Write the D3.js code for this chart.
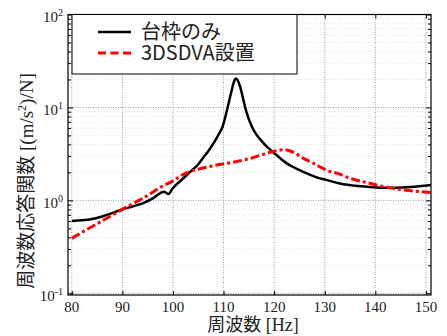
<!DOCTYPE html>
<html lang="ja">
<head>
  <meta charset="UTF-8">
  <title>周波数応答関数</title>
  <script src="https://d3js.org/d3.v7.min.js"></script>
  <style>
    * { margin: 0; padding: 0; }
    body { background: #fff; width: 447px; height: 336px; overflow: hidden; }
    svg { display: block; }
  </style>
</head>
<body>
  <svg id="chart" width="447" height="336"></svg>
  <script>
  // 台枠のみ
  var freqBase = [80, 82, 84, 86, 88, 90, 92, 94, 96, 97.5, 98.2, 98.8, 99.2, 99.8, 100.5, 102, 103.5, 105, 106, 107, 108, 109, 109.8, 110.7, 111.5, 112, 112.4, 112.8, 113.3, 114, 114.4, 115.6, 116.5, 117.3, 118.5, 119.8, 121, 122.5, 124, 126, 128, 130.5, 133, 137, 141, 144, 147, 151];
  var ampBase = [0.60, 0.61, 0.63, 0.67, 0.73, 0.80, 0.86, 0.93, 1.05, 1.20, 1.24, 1.19, 1.17, 1.32, 1.45, 1.72, 2.05, 2.45, 2.9, 3.4, 4.1, 5.1, 6.2, 9.5, 14.5, 18.5, 20.5, 19.5, 16.5, 11.5, 9.4, 6.2, 5.1, 4.5, 3.8, 3.3, 2.9, 2.5, 2.25, 2.0, 1.8, 1.65, 1.52, 1.42, 1.37, 1.37, 1.39, 1.46];

  // 3DSDVA設置
  var freqDva = [80, 82.5, 85, 87.5, 90, 92.5, 95, 97.5, 100, 102, 104, 106, 108, 110, 112, 114, 116, 118, 120, 121, 122, 123, 124, 125, 126, 127.2, 129, 130.5, 132.5, 135, 138.4, 141, 143.7, 147, 151];
  var ampDva = [0.39, 0.47, 0.56, 0.67, 0.80, 0.95, 1.13, 1.38, 1.62, 1.9, 2.1, 2.23, 2.36, 2.47, 2.58, 2.72, 2.9, 3.15, 3.38, 3.48, 3.5, 3.42, 3.25, 3.02, 2.8, 2.6, 2.3, 2.1, 1.95, 1.73, 1.55, 1.43, 1.34, 1.27, 1.21];

  var xTicks = [80, 90, 100, 110, 120, 130, 140, 150];
  var yExp = [-1, 0, 1, 2];
  var legendLabels = ['台枠のみ', '3DSDVA設置'];

  var SERIF = "'Liberation Serif', 'Times New Roman', serif";
  var CJK = "'Noto Sans CJK JP', 'Noto Sans', sans-serif";

  var plotL = 68, plotR = 431, plotT = 14.5, plotB = 295;

  var svg = d3.select('#chart');

  var x = d3.scaleLinear().domain([79.25, 151]).range([plotL, plotR]);
  var y = d3.scaleLog().domain([0.0959, 100]).range([plotB, plotT]);

  // minor values for the log axis
  var minorVals = [];
  yExp.forEach(function(e) {
    for (var k = 2; k <= 9; k++) {
      var v = k * Math.pow(10, e);
      if (v < 100) minorVals.push(v);
    }
  });
  var majorVals = yExp.map(function(e) { return Math.pow(10, e); });

  var grid = svg.append('g');
  grid.selectAll('line.minor')
    .data(minorVals)
    .join('line')
    .attr('class', 'minor')
    .attr('x1', plotL).attr('x2', plotR)
    .attr('y1', function(d) { return y(d); })
    .attr('y2', function(d) { return y(d); })
    .attr('stroke', '#e2e2e2')
    .attr('stroke-dasharray', '1,2');

  grid.selectAll('line.hmaj')
    .data(majorVals)
    .join('line')
    .attr('class', 'hmaj')
    .attr('x1', plotL).attr('x2', plotR)
    .attr('y1', function(d) { return y(d); })
    .attr('y2', function(d) { return y(d); })
    .attr('stroke', '#9a9a9a')
    .attr('stroke-dasharray', '1,1.5');

  grid.selectAll('line.vmaj')
    .data(xTicks)
    .join('line')
    .attr('class', 'vmaj')
    .attr('x1', function(d) { return x(d); })
    .attr('x2', function(d) { return x(d); })
    .attr('y1', plotT).attr('y2', plotB)
    .attr('stroke', '#9a9a9a')
    .attr('stroke-dasharray', '1,1.5');

  // Curves
  svg.append('clipPath').attr('id', 'clip')
    .append('rect').attr('x', plotL).attr('y', plotT).attr('width', plotR - plotL).attr('height', plotB - plotT);

  var line = d3.line()
    .x(function(d) { return x(d[0]); })
    .y(function(d) { return y(d[1]); })
    .curve(d3.curveMonotoneX);

  var curves = svg.append('g').attr('clip-path', 'url(#clip)');

  curves.append('path')
    .datum(d3.zip(freqBase, ampBase))
    .attr('d', line)
    .attr('fill', 'none')
    .attr('stroke', '#000')
    .attr('stroke-width', 2.5)
    .attr('stroke-linejoin', 'round');

  curves.append('path')
    .datum(d3.zip(freqDva, ampDva))
    .attr('d', line)
    .attr('fill', 'none')
    .attr('stroke', '#ff0000')
    .attr('stroke-width', 3)
    .attr('stroke-dasharray', '9,3,3,3');

  // Axes (inward ticks, box)
  function noDomain(g) { g.select('.domain').remove(); }

  svg.append('g')
    .attr('transform', 'translate(0,' + plotB + ')')
    .call(d3.axisBottom(x).tickValues(xTicks).tickSize(-4).tickFormat(''))
    .call(noDomain);
  svg.append('g')
    .attr('transform', 'translate(0,' + plotT + ')')
    .call(d3.axisTop(x).tickValues(xTicks).tickSize(-4).tickFormat(''))
    .call(noDomain);
  svg.append('g')
    .attr('transform', 'translate(' + plotL + ',0)')
    .call(d3.axisLeft(y).tickValues(majorVals).tickSize(-5).tickFormat(''))
    .call(noDomain);
  svg.append('g')
    .attr('transform', 'translate(' + plotL + ',0)')
    .call(d3.axisLeft(y).tickValues(minorVals).tickSize(-3).tickFormat(''))
    .call(noDomain);
  svg.append('g')
    .attr('transform', 'translate(' + plotR + ',0)')
    .call(d3.axisRight(y).tickValues(majorVals).tickSize(-5).tickFormat(''))
    .call(noDomain);
  svg.append('g')
    .attr('transform', 'translate(' + plotR + ',0)')
    .call(d3.axisRight(y).tickValues(minorVals).tickSize(-3).tickFormat(''))
    .call(noDomain);

  svg.append('rect')
    .attr('x', plotL).attr('y', plotT)
    .attr('width', plotR - plotL).attr('height', plotB - plotT)
    .attr('fill', 'none')
    .attr('stroke', '#000')
    .attr('stroke-width', 1.2);

  // Tick labels
  svg.append('g')
    .selectAll('text')
    .data(xTicks)
    .join('text')
    .attr('x', function(d) { return x(d); })
    .attr('y', 311.5)
    .attr('text-anchor', 'middle')
    .attr('font-family', SERIF)
    .attr('font-size', 15)
    .attr('fill', '#222')
    .text(function(d) { return d; });

  var yl = svg.append('g')
    .selectAll('text')
    .data(yExp)
    .join('text')
    .attr('x', 63)
    .attr('y', function(d) { return y(Math.pow(10, d)) + 7.5; })
    .attr('text-anchor', 'end')
    .attr('font-family', SERIF)
    .attr('font-size', 15)
    .attr('fill', '#222');
  yl.append('tspan').text('10');
  yl.append('tspan').attr('dy', -6).attr('font-size', 10)
    .text(function(d) { return d < 0 ? '-' + Math.abs(d) : d; });

  // Axis titles
  var xt = svg.append('text')
    .attr('x', 253).attr('y', 331)
    .attr('text-anchor', 'middle')
    .attr('fill', '#222');
  xt.append('tspan').attr('font-family', CJK).attr('font-size', 18).text('周波数');
  xt.append('tspan').attr('font-family', SERIF).attr('font-size', 18).text(' [Hz]');

  var yt = svg.append('text')
    .attr('transform', 'translate(33,181) rotate(-90)')
    .attr('text-anchor', 'middle')
    .attr('fill', '#222');
  yt.append('tspan').attr('font-family', CJK).attr('font-size', 19).text('周波数応答関数');
  yt.append('tspan').attr('font-family', SERIF).attr('font-size', 19).text(' [(m/s');
  yt.append('tspan').attr('font-family', SERIF).attr('font-size', 12).attr('dy', -7).text('2');
  yt.append('tspan').attr('font-family', SERIF).attr('font-size', 19).attr('dy', 7).text(')/N]');

  // Legend
  var legend = svg.append('g');
  legend.append('rect')
    .attr('x', 72).attr('y', plotT)
    .attr('width', 225).attr('height', 59.5)
    .attr('fill', '#fff')
    .attr('stroke', '#000')
    .attr('stroke-width', 1);

  var legendStyles = [
    { color: '#000', width: 2.5, dash: null },
    { color: '#ff0000', width: 3, dash: '8,4.5' }
  ];
  var legendRows = legend.selectAll('g.row')
    .data(legendLabels)
    .join('g')
    .attr('class', 'row')
    .attr('transform', function(d, i) { return 'translate(0,' + (32 + i * 21) + ')'; });
  legendRows.append('line')
    .attr('x1', 98).attr('x2', 131)
    .attr('stroke', function(d, i) { return legendStyles[i].color; })
    .attr('stroke-width', function(d, i) { return legendStyles[i].width; })
    .attr('stroke-dasharray', function(d, i) { return legendStyles[i].dash; });
  legendRows.append('text')
    .attr('x', 141)
    .attr('y', 7)
    .attr('font-family', CJK)
    .attr('font-size', 20)
    .attr('fill', '#222')
    .text(function(d) { return d; });
  </script>
</body>
</html>
